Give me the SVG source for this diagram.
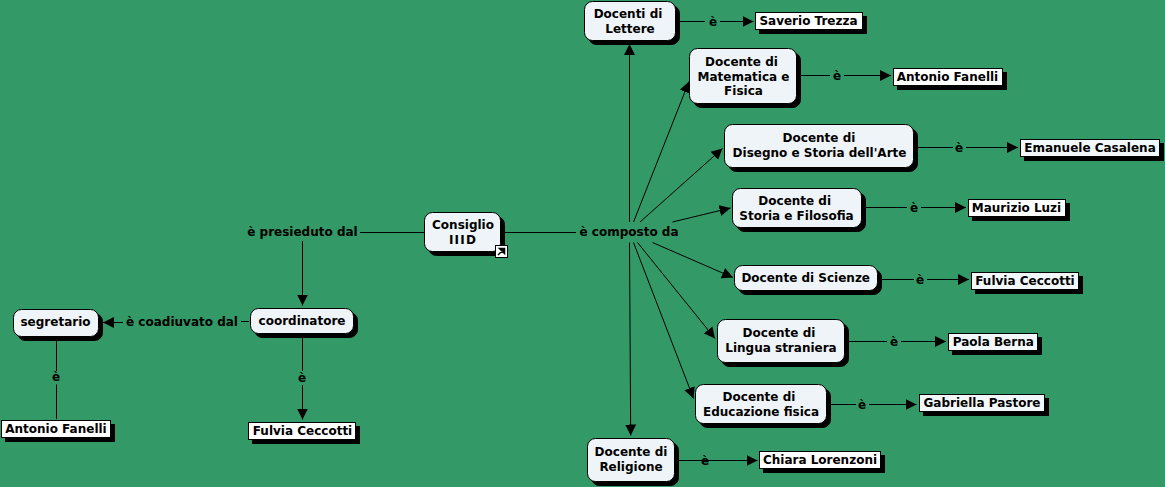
<svg xmlns="http://www.w3.org/2000/svg" width="1165" height="487" viewBox="0 0 1165 487">
<style>
text{font-family:"DejaVu Sans",Verdana,sans-serif;font-weight:bold;font-size:12px;fill:#000;text-anchor:middle}
.s{fill:#000;stroke:#000;stroke-width:1}
.n{fill:#eef4f7;stroke:#000;stroke-width:1}
.b{fill:#fff;stroke:#000;stroke-width:1}
.l{fill:#f2f7f9;stroke:#000;stroke-width:1}
.c line{stroke:#000;stroke-width:1;fill:none}
.c line.a{marker-end:url(#ah)}
</style>
<defs>
<marker id="ah" markerUnits="userSpaceOnUse" markerWidth="12" markerHeight="12" viewBox="0 0 12 12" refX="11" refY="6" orient="auto"><path d="M0 0.500L11 6L0 11.500z" fill="#000"/></marker>
</defs>
<rect width="1165" height="487" fill="#339966"/>
<g id="connectors" class="c">
<line x1="424" y1="232.500" x2="360" y2="232.500"/>
<line x1="302.500" y1="241" x2="302.500" y2="305.500" class="a"/>
<line x1="505" y1="232.500" x2="576" y2="232.500"/>
<line x1="629.500" y1="222" x2="629.500" y2="44" class="a"/>
<line x1="633.500" y1="222" x2="689" y2="81.500" class="a"/>
<line x1="640" y1="222" x2="722.500" y2="148.500" class="a"/>
<line x1="672.500" y1="222" x2="730.500" y2="208" class="a"/>
<line x1="652.500" y1="242.500" x2="733" y2="277.500" class="a"/>
<line x1="637.500" y1="242.500" x2="715" y2="338.500" class="a"/>
<line x1="633.500" y1="242.500" x2="693.500" y2="398.500" class="a"/>
<line x1="629.500" y1="242.500" x2="630.700" y2="435.500" class="a"/>
<line x1="249" y1="321.500" x2="241" y2="321.500"/>
<line x1="123" y1="322.500" x2="103" y2="322.500" class="a"/>
<line x1="56.500" y1="340" x2="56.500" y2="371"/>
<line x1="56.500" y1="384.500" x2="56.500" y2="419"/>
<line x1="302.500" y1="337" x2="302.500" y2="371"/>
<line x1="302.500" y1="385" x2="302.500" y2="419.500" class="a"/>
<line x1="680" y1="21.500" x2="705" y2="21.500"/>
<line x1="720" y1="21.500" x2="753.500" y2="21.500" class="a"/>
<line x1="800" y1="75.500" x2="830" y2="75.500"/>
<line x1="844" y1="75.500" x2="891" y2="75.500" class="a"/>
<line x1="917" y1="147.500" x2="953" y2="147.500"/>
<line x1="966" y1="147.500" x2="1018" y2="147.500" class="a"/>
<line x1="865" y1="207.500" x2="907" y2="207.500"/>
<line x1="921" y1="207.500" x2="966" y2="207.500" class="a"/>
<line x1="882" y1="279.500" x2="914" y2="279.500"/>
<line x1="927" y1="279.500" x2="969" y2="279.500" class="a"/>
<line x1="849" y1="341.500" x2="887" y2="341.500"/>
<line x1="901" y1="341.500" x2="946" y2="341.500" class="a"/>
<line x1="831" y1="404.500" x2="856" y2="404.500"/>
<line x1="869" y1="404.500" x2="916.500" y2="404.500" class="a"/>
<line x1="679" y1="460.500" x2="757.500" y2="460.500" class="a"/>
</g>
<g id="labels">
<text x="302.500" y="236">è presieduto dal</text>
<text x="629" y="236">è composto da</text>
<text x="182" y="326">è coadiuvato dal</text>
<text x="56" y="380.500">è</text>
<text x="302" y="381.500">è</text>
<text x="713" y="25.500">è</text>
<text x="837" y="80">è</text>
<text x="959" y="151.500">è</text>
<text x="914" y="211.500">è</text>
<text x="920" y="284">è</text>
<text x="894" y="345.500">è</text>
<text x="862" y="408.500">è</text>
<text x="705" y="464.500">è</text>
</g>
<g id="consiglio">
<rect class="s" x="428.500" y="216.500" width="76" height="39" rx="8"/>
<rect class="n" x="424.500" y="212.500" width="76" height="39" rx="8"/>
<text x="463" y="229">Consiglio</text><text x="463" y="244" letter-spacing="1.200">IIID</text>
<rect x="495.500" y="245.500" width="12" height="12" fill="#fff" stroke="#000"/>
<path d="M498 255L503 250M499.500 248.500H504.500V253.500z" stroke="#000" stroke-width="1.500" fill="#000"/>
</g>
<g id="coordinatore">
<rect class="s" x="254.500" y="312.500" width="103" height="25" rx="8"/>
<rect class="n" x="250.500" y="308.500" width="103" height="25" rx="8"/>
<text x="302" y="325">coordinatore</text>
</g>
<g id="segretario">
<rect class="s" x="17.500" y="313.500" width="85" height="27" rx="8"/>
<rect class="n" x="13.500" y="309.500" width="85" height="27" rx="8"/>
<text x="55.500" y="326">segretario</text>
</g>
<g id="antonio2">
<rect class="s" x="5.500" y="424.500" width="109" height="17"/>
<rect class="b" x="1.500" y="420.500" width="109" height="17"/>
<text x="56" y="433">Antonio Fanelli</text>
</g>
<g id="fulvia2">
<rect class="s" x="252.500" y="426.500" width="107" height="17"/>
<rect class="b" x="248.500" y="422.500" width="107" height="17"/>
<text x="302.500" y="435">Fulvia Ceccotti</text>
</g>
<g id="lettere">
<rect class="s" x="588.500" y="5.500" width="91" height="39" rx="8"/>
<rect class="n" x="584.500" y="1.500" width="91" height="39" rx="8"/>
<text x="628" y="17.500">Docenti di</text><text x="630" y="32.500">Lettere</text>
</g>
<g id="trezza">
<rect class="s" x="759.500" y="16.500" width="107" height="17"/>
<rect class="b" x="755.500" y="12.500" width="107" height="17"/>
<text x="808.500" y="25">Saverio Trezza</text>
</g>
<g id="matematica">
<rect class="s" x="693.500" y="52.500" width="107" height="55" rx="8"/>
<rect class="n" x="689.500" y="48.500" width="107" height="55" rx="8"/>
<text x="741.500" y="66">Docente di</text><text x="743.500" y="81">Matematica e</text><text x="743.500" y="95">Fisica</text>
</g>
<g id="fanelli">
<rect class="s" x="897.500" y="72.500" width="109" height="17"/>
<rect class="b" x="893.500" y="68.500" width="109" height="17"/>
<text x="947.500" y="81">Antonio Fanelli</text>
</g>
<g id="arte">
<rect class="s" x="728.500" y="128.500" width="189" height="43" rx="8"/>
<rect class="n" x="724.500" y="124.500" width="189" height="43" rx="8"/>
<text x="819" y="142">Docente di</text><text x="819.500" y="157">Disegno e Storia dell'Arte</text>
</g>
<g id="casalena">
<rect class="s" x="1024.500" y="143.500" width="139" height="17"/>
<rect class="l" x="1020.500" y="139.500" width="139" height="17"/>
<text x="1090" y="152">Emanuele Casalena</text>
</g>
<g id="filosofia">
<rect class="s" x="736.500" y="192.500" width="129" height="39" rx="8"/>
<rect class="n" x="732.500" y="188.500" width="129" height="39" rx="8"/>
<text x="794.700" y="205">Docente di</text><text x="796.500" y="220">Storia e Filosofia</text>
</g>
<g id="luzi">
<rect class="s" x="972.500" y="203.500" width="97" height="17"/>
<rect class="b" x="968.500" y="199.500" width="97" height="17"/>
<text x="1016.500" y="212">Maurizio Luzi</text>
</g>
<g id="scienze">
<rect class="s" x="738.500" y="269.500" width="143" height="25" rx="8"/>
<rect class="n" x="734.500" y="265.500" width="143" height="25" rx="8"/>
<text x="805.700" y="282">Docente di Scienze</text>
</g>
<g id="ceccotti">
<rect class="s" x="975.500" y="276.500" width="107" height="17"/>
<rect class="l" x="971.500" y="272.500" width="107" height="17"/>
<text x="1025" y="285">Fulvia Ceccotti</text>
</g>
<g id="lingua">
<rect class="s" x="721.500" y="323.500" width="127" height="43" rx="8"/>
<rect class="n" x="717.500" y="319.500" width="127" height="43" rx="8"/>
<text x="779" y="337">Docente di</text><text x="781" y="352">Lingua straniera</text>
</g>
<g id="berna">
<rect class="s" x="952.500" y="337.500" width="89" height="17"/>
<rect class="l" x="948.500" y="333.500" width="89" height="17"/>
<text x="993.300" y="346">Paola Berna</text>
</g>
<g id="educazione">
<rect class="s" x="699.500" y="388.500" width="131" height="39" rx="8"/>
<rect class="n" x="695.500" y="384.500" width="131" height="39" rx="8"/>
<text x="759" y="401">Docente di</text><text x="761" y="416">Educazione fisica</text>
</g>
<g id="pastore">
<rect class="s" x="923.500" y="398.500" width="125" height="17"/>
<rect class="l" x="919.500" y="394.500" width="125" height="17"/>
<text x="982" y="407">Gabriella Pastore</text>
</g>
<g id="religione">
<rect class="s" x="591.500" y="442.500" width="87" height="43" rx="8"/>
<rect class="n" x="587.500" y="438.500" width="87" height="43" rx="8"/>
<text x="631" y="456">Docente di</text><text x="631" y="471">Religione</text>
</g>
<g id="lorenzoni">
<rect class="s" x="763.500" y="455.500" width="121" height="17"/>
<rect class="b" x="759.500" y="451.500" width="121" height="17"/>
<text x="820" y="464">Chiara Lorenzoni</text>
</g>
</svg>
